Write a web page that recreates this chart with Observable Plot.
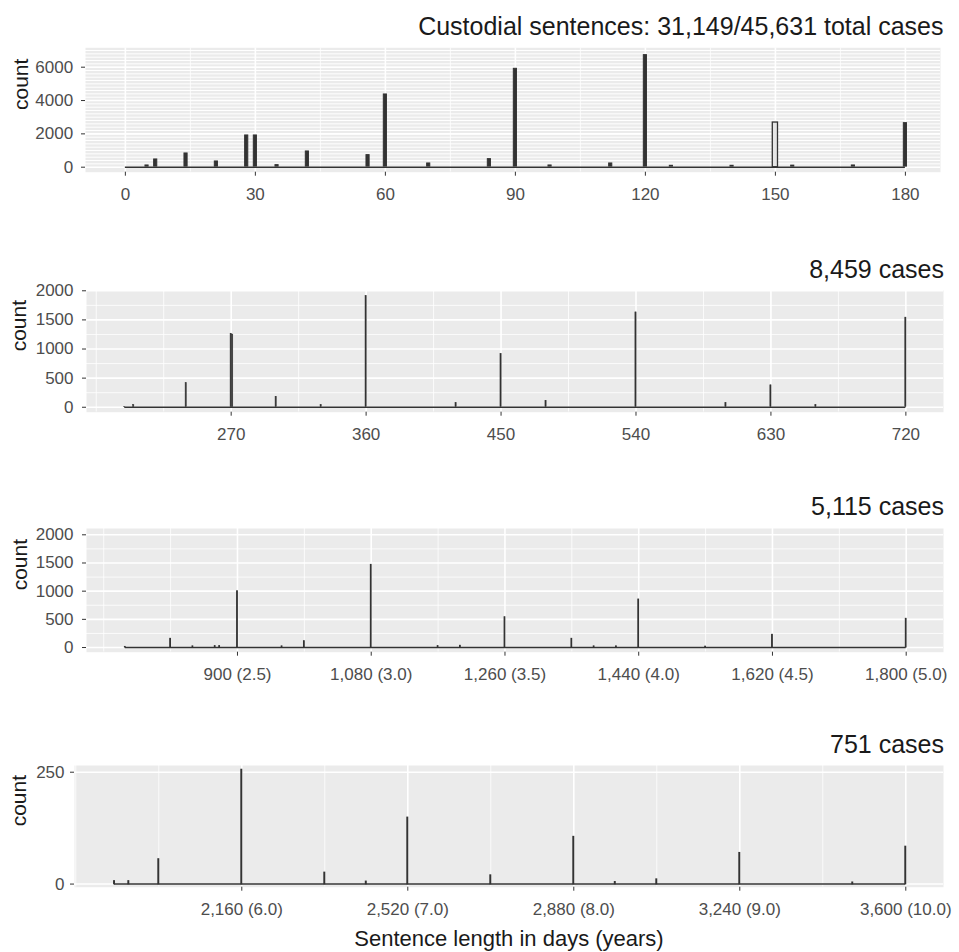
<!DOCTYPE html>
<html><head><meta charset="utf-8">
<script src="https://cdn.jsdelivr.net/npm/d3@7"></script>
<script src="https://cdn.jsdelivr.net/npm/@observablehq/plot@0.6"></script>
<style>
body{margin:0;background:#fff;font-family:"Liberation Sans",Arial,sans-serif;}
#chart svg{display:block;}
</style></head><body><div id="chart"></div>
<script>
// ---- Data (sentence length in days, count of cases) ----
const titles = ["Custodial sentences: 31,149/45,631 total cases", "8,459 cases", "5,115 cases", "751 cases"];
const xAxisTitle = "Sentence length in days (years)";
const yAxisTitle = "count";

// Panel 1: up to 180 days
const days1   = [0, 5, 7, 14, 21, 28, 30, 35, 42, 56, 60, 70, 84, 90, 98, 112, 120, 126, 140, 150, 154, 168, 180];
const counts1 = [5, 140, 500, 860, 380, 1940, 1940, 160, 980, 760, 4400, 260, 520, 5940, 140, 260, 6760, 120, 120, 2680, 130, 140, 2680];
const hollowDays1 = [150];
const xTicks1 = [0, 30, 60, 90, 120, 150, 180];
const yTicks1 = [0, 2000, 4000, 6000];

// Panel 2: 181–720 days
const days2   = [199, 205, 240, 270, 271, 300, 330, 360, 420, 450, 480, 540, 600, 630, 660, 720];
const counts2 = [10, 40, 415, 1265, 1250, 182, 40, 1911, 75, 918, 114, 1632, 75, 380, 40, 1542];
const xTicks2 = [270, 360, 450, 540, 630, 720];
const yTicks2 = [0, 500, 1000, 1500, 2000];

// Panel 3: 721–1800 days
const days3   = [749, 810, 840, 870, 876, 900, 960, 990, 1080, 1170, 1200, 1260, 1350, 1380, 1410, 1440, 1530, 1620, 1800];
const counts3 = [10, 154, 20, 25, 25, 998, 20, 112, 1466, 25, 30, 537, 154, 20, 20, 851, 15, 225, 509];
const xTicks3 = [900, 1080, 1260, 1440, 1620, 1800];
const yTicks3 = [0, 500, 1000, 1500, 2000];

// Panel 4: 1801–3600 days
const days4   = [1884, 1915, 1980, 2160, 2340, 2430, 2520, 2700, 2880, 2970, 3060, 3240, 3485, 3600];
const counts4 = [6, 6, 55, 255, 25, 5, 148, 19, 105, 4, 10, 69, 3, 83];
const xTicks4 = [2160, 2520, 2880, 3240, 3600];
const yTicks4 = [0, 250];

const fmtDays = d3.format(",");
const fmtYears = d => `${fmtDays(d)} (${(d / 360).toFixed(1)})`;

function panel(o) {
  const data = o.days.map((d, i) => ({day: d, count: o.counts[i]}));
  const hollow = o.hollow || [];
  const solid = data.filter(d => !hollow.includes(d.day));
  const holl = data.filter(d => hollow.includes(d.day));
  const step = o.xTicks[1] - o.xTicks[0];
  const xMinor = [o.xTicks[0] - step, o.xTicks[0] - step / 2, ...o.xTicks.map(t => t + step / 2)];
  return Plot.plot({
    width: 959, height: o.height,
    marginTop: o.mt, marginBottom: o.mb, marginLeft: o.ml, marginRight: o.mr,
    style: {fontFamily: "'Liberation Sans', Arial, sans-serif", fontSize: "17px", background: "white", overflow: "visible"},
    x: {domain: o.xDomain, axis: null},
    y: {domain: o.yDomain, axis: null},
    marks: [
      Plot.frame({fill: "#ebebeb", stroke: null}),
      Plot.ruleY(o.yMinor, {stroke: "white", strokeWidth: o.yMinorWidth || 0.8, clip: true}),
      Plot.ruleX(xMinor, {stroke: "white", strokeWidth: 0.8, clip: true}),
      Plot.ruleY(o.yTicks, {stroke: "white", strokeWidth: 1.6, clip: true}),
      Plot.ruleX(o.xTicks, {stroke: "white", strokeWidth: 1.6, clip: true}),
      Plot.ruleY([0], {x1: d3.min(o.days), x2: d3.max(o.days), stroke: "#333", strokeWidth: 1.6}),
      Plot.rectY(solid, {x1: d => d.day - 0.5, x2: d => d.day + 0.5, y1: 0, y2: "count",
        fill: "#333", stroke: "#333", strokeWidth: o.sw, inset: o.inset}),
      Plot.rectY(holl, {x1: d => d.day - 0.6, x2: d => d.day + 0.6, y1: 0, y2: "count",
        fill: "#e6e6e6", stroke: "#333", strokeWidth: 1.3}),
      Plot.axisX({ticks: o.xTicks, tickSize: 4, tickPadding: 12, tickFormat: o.xFormat,
        stroke: "#333", fill: "#4d4d4d", fontSize: 17, label: null}),
      Plot.axisY({ticks: o.yTicks, tickSize: 4, tickPadding: o.ytp, tickFormat: d => String(d),
        stroke: "#333", fill: "#4d4d4d", fontSize: 17, label: null}),
      Plot.text([o.title], {frameAnchor: "top-right", dx: o.tdx, dy: o.tdy, lineAnchor: "bottom",
        textAnchor: "end", fontSize: 25, fill: "#1a1a1a"}),
      Plot.text([yAxisTitle], {frameAnchor: "left", dx: -(o.ml - o.cx), rotate: -90, fontSize: 21, fill: "#1a1a1a"}),
      o.xLabel ? Plot.text([o.xLabel], {frameAnchor: "bottom", dy: 59, lineAnchor: "bottom", fontSize: 22, fill: "#1a1a1a"}) : null
    ]
  });
}

const chart = document.getElementById("chart");
chart.append(panel({
  days: days1, counts: counts1, hollow: hollowDays1, xTicks: xTicks1, yTicks: yTicks1,
  yMinor: d3.range(200, 7200, 200), yMinorWidth: 1,
  xDomain: [-9.2, 188.1], yDomain: [-300, 7164], xFormat: d => String(d),
  title: titles[0], height: 240, mt: 47.3, mb: 68.3, ml: 85, mr: 19,
  sw: 1, inset: 0.6, ytp: 8.3, tdx: 3, tdy: -12.5, cx: 21
}));
chart.append(panel({
  days: days2, counts: counts2, xTicks: xTicks2, yTicks: yTicks2,
  yMinor: [250, 750, 1250, 1750],
  xDomain: [173.5, 745.1], yDomain: [-85, 2005], xFormat: d => String(d),
  title: titles[1], height: 230, mt: 50, mb: 58.3, ml: 86, mr: 16,
  sw: 0.5, inset: 0.15, ytp: 9, tdx: 0.5, tdy: -12.5, cx: 19
}));
chart.append(panel({
  days: days3, counts: counts3, xTicks: xTicks3, yTicks: yTicks3,
  yMinor: [250, 750, 1250, 1750],
  xDomain: [696.8, 1850.2], yDomain: [-83, 2112], xFormat: fmtYears,
  title: titles[2], height: 235, mt: 58, mb: 53.3, ml: 86, mr: 16,
  sw: 1, inset: 0, ytp: 9, tdx: 0.5, tdy: -14, cx: 19.7
}));
chart.append(panel({
  days: days4, counts: counts4, xTicks: xTicks4, yTicks: yTicks4,
  yMinor: [],
  xDomain: [1797.2, 3681.8], yDomain: [-7, 265], xFormat: fmtYears,
  title: titles[3], height: 247, mt: 60, mb: 65.3, ml: 74, mr: 16,
  sw: 1.5, inset: 0, ytp: 6, tdx: 0.5, tdy: -12.3, cx: 19.2, xLabel: xAxisTitle
}));
</script></body></html>
